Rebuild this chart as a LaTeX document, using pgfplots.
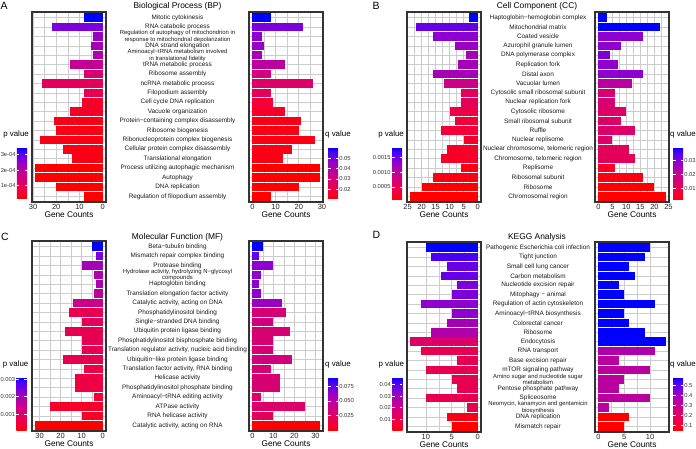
\documentclass[border=0pt]{standalone}
\usepackage{fontspec}
\setmainfont{Liberation Sans}
\usepackage{pgfplots}
\pgfplotsset{compat=1.18}

\definecolor{c0}{RGB}{255,0,0}
\definecolor{c1}{RGB}{246,0,42}
\definecolor{c2}{RGB}{237,0,68}
\definecolor{c3}{RGB}{227,0,91}
\definecolor{c4}{RGB}{215,0,114}
\definecolor{c5}{RGB}{202,0,137}
\definecolor{c6}{RGB}{186,0,159}
\definecolor{c7}{RGB}{166,0,183}
\definecolor{c8}{RGB}{141,0,206}
\definecolor{c9}{RGB}{104,0,230}
\definecolor{c10}{RGB}{0,0,255}
\colorlet{k0}{c0}\colorlet{k1}{c1!50!c0}\colorlet{k2}{c1}\colorlet{k3}{c2!50!c1}
\colorlet{k4}{c2}\colorlet{k5}{c3!50!c2}\colorlet{k6}{c3}\colorlet{k7}{c4!50!c3}
\colorlet{k8}{c4}\colorlet{k9}{c5!50!c4}\colorlet{k10}{c5}\colorlet{k11}{c6!50!c5}
\colorlet{k12}{c6}\colorlet{k13}{c7!50!c6}\colorlet{k14}{c7}\colorlet{k15}{c8!50!c7}
\colorlet{k16}{c8}\colorlet{k17}{c9!50!c8}\colorlet{k18}{c9}\definecolor{k19}{RGB}{75,0,243}
\colorlet{k20}{c10}

\pgfplotsset{colormap={rb}{rgb255=(255,0,0) rgb255=(246,0,42) rgb255=(237,0,68) rgb255=(227,0,91) rgb255=(215,0,114) rgb255=(202,0,137) rgb255=(186,0,159) rgb255=(166,0,183) rgb255=(141,0,206) rgb255=(104,0,230) rgb255=(75,0,243) rgb255=(0,0,255)}}

\newcommand{\hb}[3]{\addplot[xbar, bar width=0.9, bar shift=0pt, draw=none, fill=k#3] coordinates {(#1,#2)};}
\newcommand{\sm}[1]{{\fontsize{5.9}{5}\selectfont #1}}

\pgfplotsset{
 /pgf/number format/assume math mode=true,
 panel/.style={scale only axis, width=74pt, height=190pt, anchor=center,
   ymin=0.4, ymax=20.6, y dir=reverse, ytick={1,...,20},
   ymajorgrids, xmajorgrids, xminorgrids, minor x tick num=1,
   major grid style={line width=0.6pt, draw=black!20},
   minor grid style={line width=0.6pt, draw=black!20},
   axis line style={line width=1.3pt, draw=black!80},
   tick style={draw=none},
   xticklabel style={font=\fontsize{7.5}{8}\selectfont, text=black!85, inner sep=0pt, yshift=-2.3pt},
   xlabel={Gene Counts},
   xlabel style={at={(ticklabel cs:0.5)}, anchor=north, font=\fontsize{8.3}{9}\selectfont, inner sep=0pt, yshift=-1.3pt},
 },
 leftp/.style={panel, x dir=reverse, yticklabels={}},
 rightp/.style={panel, yticklabel pos=left, yticklabel style={anchor=center, align=center, font=\fontsize{6.4}{5}\selectfont, text=black!90, inner sep=0pt}},
 cbdummy/.style={scale only axis, width=10pt, anchor=center, xmin=0, xmax=1, ymin=0, ymax=1,
   axis line style={draw=none}, xtick=\empty, ytick=\empty, colormap name=rb},
 cbcommon/.style={at={(parent axis.center)}, anchor=center, scale only axis, width=10pt,
   x dir=normal, y dir=normal, grid=none, xlabel={},
   axis line style={draw=none}, xtick=\empty, ytick style={draw=white, line width=0.6pt},
   major tick length=2.5pt, tick align=inside, ytick pos=both,
   yticklabel style={font=\fontsize{5.8}{6}\selectfont, text=black!80, inner sep=1.2pt}},
 cbp/.style={cbcommon, yticklabel pos=left,
   title style={at={(1,1)}, anchor=south east, font=\fontsize{7.9}{9}\selectfont, inner sep=0pt, xshift=2pt, yshift=2.5pt}, title={p value}},
 cbq/.style={cbcommon, yticklabel pos=right,
   title style={at={(0,1)}, anchor=south west, font=\fontsize{7.9}{9}\selectfont, inner sep=0pt, xshift=-3pt, yshift=2.5pt}, title={q value}},
}

\begin{document}
\begin{tikzpicture}
\useasboundingbox (0,0) rectangle (696pt,449pt);

% ================= Panel A =================
\begin{axis}[leftp, at={(69pt,342pt)}, xmin=-1.45, xmax=30.45, xtick={0,10,20,30}]
\hb{8}{1}{20}\hb{22}{2}{17}\hb{4}{3}{15}\hb{5}{4}{14}\hb{4}{5}{13}
\hb{14}{6}{11}\hb{8}{7}{8}\hb{26}{8}{6}\hb{8}{9}{5}\hb{9}{10}{2}
\hb{14}{11}{2}\hb{21}{12}{1}\hb{20}{13}{1}\hb{27}{14}{1}\hb{17}{15}{1}
\hb{13}{16}{1}\hb{29}{17}{0}\hb{29}{18}{0}\hb{20}{19}{0}\hb{8}{20}{0}
\end{axis}
\begin{axis}[rightp, at={(286pt,342pt)}, xmin=-1.45, xmax=30.45, xtick={0,10,20,30},
  yticklabel style={xshift=-71.5pt},
  yticklabels={{Mitotic cytokinesis},{RNA catabolic process},{\sm{Regulation of autophagy of mitochondrion in}\\\sm{response to mitochondrial depolarization}},{DNA strand elongation},{\sm{Aminoacyl−tRNA metabolism involved}\\\sm{in translational fidelity}},{tRNA metabolic process},{Ribosome assembly},{ncRNA metabolic process},{Filopodium assembly},{Cell cycle DNA replication},{Vacuole organization},{Protein−containing complex disassembly},{Ribosome biogenesis},{Ribonucleoprotein complex biogenesis},{Cellular protein complex disassembly},{Translational elongation},{Process utilizing autophagic mechanism},{Autophagy},{DNA replication},{Regulation of filopodium assembly}}]
\hb{8}{1}{20}\hb{22}{2}{17}\hb{4}{3}{16}\hb{5}{4}{15}\hb{4}{5}{14}
\hb{14}{6}{12}\hb{8}{7}{9}\hb{26}{8}{7}\hb{8}{9}{6}\hb{9}{10}{3}
\hb{14}{11}{2}\hb{21}{12}{1}\hb{20}{13}{1}\hb{27}{14}{1}\hb{17}{15}{1}
\hb{13}{16}{1}\hb{29}{17}{0}\hb{29}{18}{0}\hb{20}{19}{0}\hb{8}{20}{0}
\end{axis}
\begin{axis}[cbdummy, height=51pt, at={(22pt,276.2pt)}, point meta min=0.2, point meta max=3.45,
  colorbar left, colorbar shift/.style={}, colorbar style={cbp, height=51pt, ytick={1,2,3}, yticklabels={1e-04,2e-04,3e-04}}]
\end{axis}
\begin{axis}[cbdummy, height=51pt, at={(333pt,276.2pt)}, point meta min=1.1, point meta max=6.1,
  colorbar right, colorbar shift/.style={}, colorbar style={cbq, height=51pt, ytick={2,3,4,5}, yticklabels={0.02,0.03,0.04,0.05}}]
\end{axis}

% ================= Panel B =================
\begin{axis}[leftp, at={(444pt,342pt)}, xmin=-1.2, xmax=25.2, xtick={0,5,10,15,20,25}]
\hb{3}{1}{20}\hb{22}{2}{18}\hb{16}{3}{16}\hb{8}{4}{15}\hb{4}{5}{14}
\hb{7}{6}{14}\hb{16}{7}{14}\hb{12}{8}{10}\hb{6}{9}{6}\hb{6}{10}{6}
\hb{10}{11}{4}\hb{8}{12}{3}\hb{13}{13}{3}\hb{5}{14}{2}\hb{11}{15}{2}
\hb{13}{16}{2}\hb{6}{17}{1}\hb{16}{18}{1}\hb{20}{19}{0}\hb{24}{20}{0}
\end{axis}
\begin{axis}[rightp, at={(632pt,342pt)}, xmin=-1.2, xmax=25.2, xtick={0,5,10,15,20,25},
  yticklabel style={xshift=-57pt},
  yticklabels={{Haptoglobin−hemoglobin complex},{Mitochondrial matrix},{Coated vesicle},{Azurophil granule lumen},{DNA polymerase complex},{Replication fork},{Distal axon},{Vacuolar lumen},{Cytosolic small ribosomal subunit},{Nuclear replication fork},{Cytosolic ribosome},{Small ribosomal subunit},{Ruffle},{Nuclear replisome},{Nuclear chromosome, telomeric region},{Chromosome, telomeric region},{Replisome},{Ribosomal subunit},{Ribosome},{Chromosomal region}}]
\hb{3}{1}{20}\hb{22}{2}{20}\hb{16}{3}{16}\hb{8}{4}{16}\hb{4}{5}{17}
\hb{7}{6}{16}\hb{16}{7}{16}\hb{12}{8}{12}\hb{6}{9}{8}\hb{6}{10}{8}
\hb{10}{11}{7}\hb{8}{12}{7}\hb{13}{13}{7}\hb{5}{14}{7}\hb{11}{15}{6}
\hb{13}{16}{6}\hb{6}{17}{2}\hb{16}{18}{1}\hb{20}{19}{0}\hb{24}{20}{0}
\end{axis}
\begin{axis}[cbdummy, height=52.4pt, at={(397pt,275.5pt)}, point meta min=0.14, point meta max=3.68,
  colorbar left, colorbar shift/.style={}, colorbar style={cbp, height=52.4pt, ytick={1,2,3}, yticklabels={0.0005,0.0010,0.0015}}]
\end{axis}
\begin{axis}[cbdummy, height=52.4pt, at={(678pt,275.5pt)}, point meta min=0.15, point meta max=3.98,
  colorbar right, colorbar shift/.style={}, colorbar style={cbq, height=52.4pt, ytick={1,2,3}, yticklabels={0.01,0.02,0.03}}]
\end{axis}

% ================= Panel C =================
\begin{axis}[leftp, at={(69pt,113pt)}, xmin=-1.6, xmax=33.6, xtick={0,10,20,30}]
\hb{5}{1}{20}\hb{3}{2}{17}\hb{10}{3}{14}\hb{4}{4}{13}\hb{3}{5}{13}
\hb{4}{6}{12}\hb{14}{7}{10}\hb{16}{8}{5}\hb{10}{9}{6}\hb{18}{10}{5}
\hb{10}{11}{5}\hb{10}{12}{5}\hb{19}{13}{5}\hb{9}{14}{4}\hb{13}{15}{4}
\hb{13}{16}{4}\hb{4}{17}{3}\hb{25}{18}{2}\hb{10}{19}{2}\hb{32}{20}{0}
\end{axis}
\begin{axis}[rightp, at={(286pt,113pt)}, xmin=-1.6, xmax=33.6, xtick={0,10,20,30},
  yticklabel style={xshift=-71.5pt},
  yticklabels={{Beta−tubulin binding},{Mismatch repair complex binding},{Protease binding},{\sm{Hydrolase activity, hydrolyzing N−glycosyl}\\\sm{compounds}},{Haptoglobin binding},{Translation elongation factor activity},{Catalytic activity, acting on DNA},{Phosphatidylinositol binding},{Single−stranded DNA binding},{Ubiquitin protein ligase binding},{Phosphatidylinositol bisphosphate binding},{Translation regulator activity, nucleic acid binding},{Ubiquitin−like protein ligase binding},{Translation factor activity, RNA binding},{Helicase activity},{Phosphatidylinositol phosphate binding},{Aminoacyl−tRNA editing activity},{ATPase activity},{RNA helicase activity},{Catalytic activity, acting on RNA}}]
\hb{5}{1}{20}\hb{3}{2}{18}\hb{10}{3}{16}\hb{4}{4}{16}\hb{3}{5}{16}
\hb{4}{6}{16}\hb{14}{7}{15}\hb{16}{8}{8}\hb{10}{9}{9}\hb{18}{10}{8}
\hb{10}{11}{8}\hb{10}{12}{8}\hb{19}{13}{9}\hb{9}{14}{8}\hb{13}{15}{8}
\hb{13}{16}{8}\hb{4}{17}{7}\hb{25}{18}{7}\hb{10}{19}{6}\hb{32}{20}{0}
\end{axis}
\begin{axis}[cbdummy, height=53.4pt, at={(21.5pt,45pt)}, point meta min=0.05, point meta max=3.1,
  colorbar left, colorbar shift/.style={}, colorbar style={cbp, height=53.4pt, ytick={1,2,3}, yticklabels={0.001,0.002,0.003}}]
\end{axis}
\begin{axis}[cbdummy, height=53.4pt, at={(333pt,45pt)}, point meta min=-0.1, point meta max=3.66,
  colorbar right, colorbar shift/.style={}, colorbar style={cbq, height=53.4pt, ytick={1,2,3}, yticklabels={0.025,0.050,0.075}}]
\end{axis}

% ================= Panel D =================
\begin{axis}[leftp, at={(444pt,112pt)}, xmin=-0.65, xmax=13.65, xtick={0,5,10}]
\hb{10}{1}{20}\hb{9}{2}{19}\hb{6}{3}{18}\hb{7}{4}{18}\hb{4}{5}{17}
\hb{5}{6}{17}\hb{11}{7}{16}\hb{5}{8}{16}\hb{6}{9}{14}\hb{9}{10}{13}
\hb{13}{11}{7}\hb{11}{12}{5}\hb{4}{13}{5}\hb{10}{14}{5}\hb{5}{15}{5}
\hb{4}{16}{5}\hb{10}{17}{5}\hb{2}{18}{5}\hb{6}{19}{1}\hb{5}{20}{0}
\end{axis}
\begin{axis}[rightp, at={(632pt,112pt)}, xmin=-0.65, xmax=13.65, xtick={0,5,10},
  yticklabel style={xshift=-57pt},
  yticklabels={{Pathogenic Escherichia coli infection},{Tight junction},{Small cell lung cancer},{Carbon metabolism},{Nucleotide excision repair},{Mitophagy − animal},{Regulation of actin cytoskeleton},{Aminoacyl−tRNA biosynthesis},{Colorectal cancer},{Ribosome},{Endocytosis},{RNA transport},{Base excision repair},{mTOR signaling pathway},{\sm{Amino sugar and nucleotide sugar}\\\sm{metabolism}},{Pentose phosphate pathway},{Spliceosome},{\sm{Neomycin, kanamycin and gentamicin}\\\sm{biosynthesis}},{DNA replication},{Mismatch repair}}]
\hb{10}{1}{20}\hb{9}{2}{20}\hb{6}{3}{20}\hb{7}{4}{20}\hb{4}{5}{20}
\hb{5}{6}{20}\hb{11}{7}{20}\hb{5}{8}{20}\hb{6}{9}{20}\hb{9}{10}{20}
\hb{13}{11}{20}\hb{11}{12}{13}\hb{4}{13}{12}\hb{10}{14}{12}\hb{5}{15}{12}
\hb{4}{16}{12}\hb{10}{17}{12}\hb{2}{18}{12}\hb{6}{19}{0}\hb{5}{20}{0}
\end{axis}
\begin{axis}[cbdummy, height=53.4pt, at={(397.3pt,45pt)}, point meta min=0, point meta max=4.65,
  colorbar left, colorbar shift/.style={}, colorbar style={cbp, height=53.4pt, ytick={1,2,3,4}, yticklabels={0.01,0.02,0.03,0.04}}]
\end{axis}
\begin{axis}[cbdummy, height=53.4pt, at={(678pt,45pt)}, point meta min=0.42, point meta max=5.86,
  colorbar right, colorbar shift/.style={}, colorbar style={cbq, height=53.4pt, ytick={1,2,3,4,5}, yticklabels={0.1,0.2,0.3,0.4,0.5}}]
\end{axis}

% ================= Titles and letters =================
\node[anchor=base, font=\fontsize{8.4}{9}\selectfont] at (177.5pt,440.5pt) {Biological Process (BP)};
\node[anchor=base, font=\fontsize{8.4}{9}\selectfont] at (537pt,440.5pt) {Cell Component (CC)};
\node[anchor=base, font=\fontsize{8.4}{9}\selectfont] at (177.5pt,209pt) {Molecular Function (MF)};
\node[anchor=base, font=\fontsize{8.4}{9}\selectfont] at (537pt,209.5pt) {KEGG Analysis};
\node[anchor=north west, inner sep=0pt, font=\fontsize{10.5}{11}\selectfont] at (0.5pt,447pt) {A};
\node[anchor=north west, inner sep=0pt, font=\fontsize{10.5}{11}\selectfont] at (372.5pt,447pt) {B};
\node[anchor=north west, inner sep=0pt, font=\fontsize{10.5}{11}\selectfont] at (1pt,216pt) {C};
\node[anchor=north west, inner sep=0pt, font=\fontsize{10.5}{11}\selectfont] at (372.5pt,218pt) {D};
\end{tikzpicture}
\end{document}
